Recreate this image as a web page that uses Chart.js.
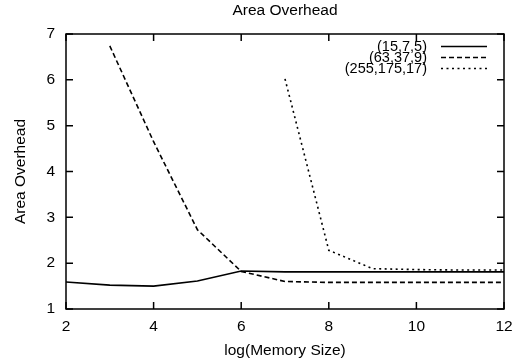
<!DOCTYPE html>
<html>
<head>
<meta charset="utf-8">
<script src="https://cdn.jsdelivr.net/npm/chart.js@4.4.0/dist/chart.umd.min.js"></script>
<style>
  body { margin: 0; background: #fff; }
  #wrap { width: 524px; height: 364px; }
</style>
</head>
<body>
<div id="wrap"><canvas id="chart" width="524" height="364"></canvas></div>
<script>
// Data
const memLog = [2, 3, 4, 5, 6, 7, 8, 9, 10, 11, 12];
const seriesLabels = ['(15,7,5)', '(63,37,9)', '(255,175,17)'];
const overheadA = [1.59, 1.52, 1.50, 1.61, 1.83, 1.81, 1.81, 1.81, 1.81, 1.81, 1.81];
const overheadB = [null, 6.74, 4.65, 2.73, 1.82, 1.60, 1.58, 1.58, 1.58, 1.58, 1.58];
const overheadC = [null, null, null, null, null, 6.02, 2.28, 1.88, 1.86, 1.85, 1.85];
const xTicks = [2, 4, 6, 8, 10, 12];
const yTicks = [1, 2, 3, 4, 5, 6, 7];

const FONT = "'Liberation Sans', Arial, sans-serif";

function toPoints(ys) {
    return memLog.map((x, i) => ({ x: x, y: ys[i] })).filter(p => p.y !== null);
}

// Frame, inner tick marks, title and legend drawn like gnuplot
const gnuplotDecor = {
    id: 'gnuplotDecor',
    afterDraw(chart) {
        const ctx = chart.ctx;
        const a = chart.chartArea;
        const xs = chart.scales.x;
        const ys = chart.scales.y;
        const tick = 7;
        ctx.save();
        ctx.strokeStyle = '#000';
        ctx.lineWidth = 1.5;
        ctx.setLineDash([]);
        ctx.strokeRect(a.left, a.top, a.right - a.left, a.bottom - a.top);
        ctx.beginPath();
        yTicks.forEach(v => {
            const y = ys.getPixelForValue(v);
            ctx.moveTo(a.left, y); ctx.lineTo(a.left + tick, y);
            ctx.moveTo(a.right, y); ctx.lineTo(a.right - tick, y);
        });
        xTicks.forEach(v => {
            const x = xs.getPixelForValue(v);
            ctx.moveTo(x, a.bottom); ctx.lineTo(x, a.bottom - tick);
            ctx.moveTo(x, a.top); ctx.lineTo(x, a.top + tick);
        });
        ctx.stroke();

        // title
        ctx.fillStyle = '#000';
        ctx.font = '15.5px ' + FONT;
        ctx.textAlign = 'center';
        ctx.textBaseline = 'middle';
        ctx.fillText('Area Overhead', (a.left + a.right) / 2, 11);

        // legend
        ctx.font = '14.5px ' + FONT;
        ctx.textAlign = 'right';
        chart.data.datasets.forEach((ds, i) => {
            const y = 46.5 + i * 11;
            ctx.fillText(ds.label, 427, y + 0.5);
            ctx.beginPath();
            ctx.lineWidth = ds.borderWidth;
            ctx.setLineDash(ds.borderDash);
            ctx.moveTo(441, y);
            ctx.lineTo(487, y);
            ctx.stroke();
        });
        ctx.restore();
    }
};

const datasets = [overheadA, overheadB, overheadC].map((ys, i) => ({
    label: seriesLabels[i],
    data: toPoints(ys),
    borderColor: '#000',
    borderWidth: 1.6,
    borderDash: [[], [5, 3], [2, 3.5]][i],
    pointRadius: 0,
    fill: false,
    tension: 0
}));

new Chart(document.getElementById('chart'), {
    type: 'line',
    data: { datasets: datasets },
    options: {
        responsive: false,
        animation: false,
        layout: { padding: { top: 34, right: 20, bottom: 0, left: 0 } },
        plugins: {
            legend: { display: false },
            title: { display: false },
            tooltip: { enabled: false }
        },
        scales: {
            x: {
                type: 'linear',
                min: 2,
                max: 12,
                afterFit: s => { s.height = 55; },
                afterBuildTicks: s => { s.ticks = xTicks.map(v => ({ value: v })); },
                grid: { display: false, drawTicks: false },
                border: { display: false },
                ticks: { color: '#000', padding: 8, font: { family: FONT, size: 15.5 } },
                title: {
                    display: true,
                    text: 'log(Memory Size)',
                    color: '#000',
                    padding: 4,
                    font: { family: FONT, size: 15.5 }
                }
            },
            y: {
                min: 1,
                max: 7,
                afterFit: s => { s.width = 66; },
                afterBuildTicks: s => { s.ticks = yTicks.map(v => ({ value: v })); },
                grid: { display: false, drawTicks: false },
                border: { display: false },
                ticks: { color: '#000', padding: 11, font: { family: FONT, size: 15.5 } },
                title: {
                    display: true,
                    text: 'Area Overhead',
                    color: '#000',
                    padding: 11,
                    font: { family: FONT, size: 15.5 }
                }
            }
        }
    },
    plugins: [gnuplotDecor]
});
</script>
</body>
</html>
